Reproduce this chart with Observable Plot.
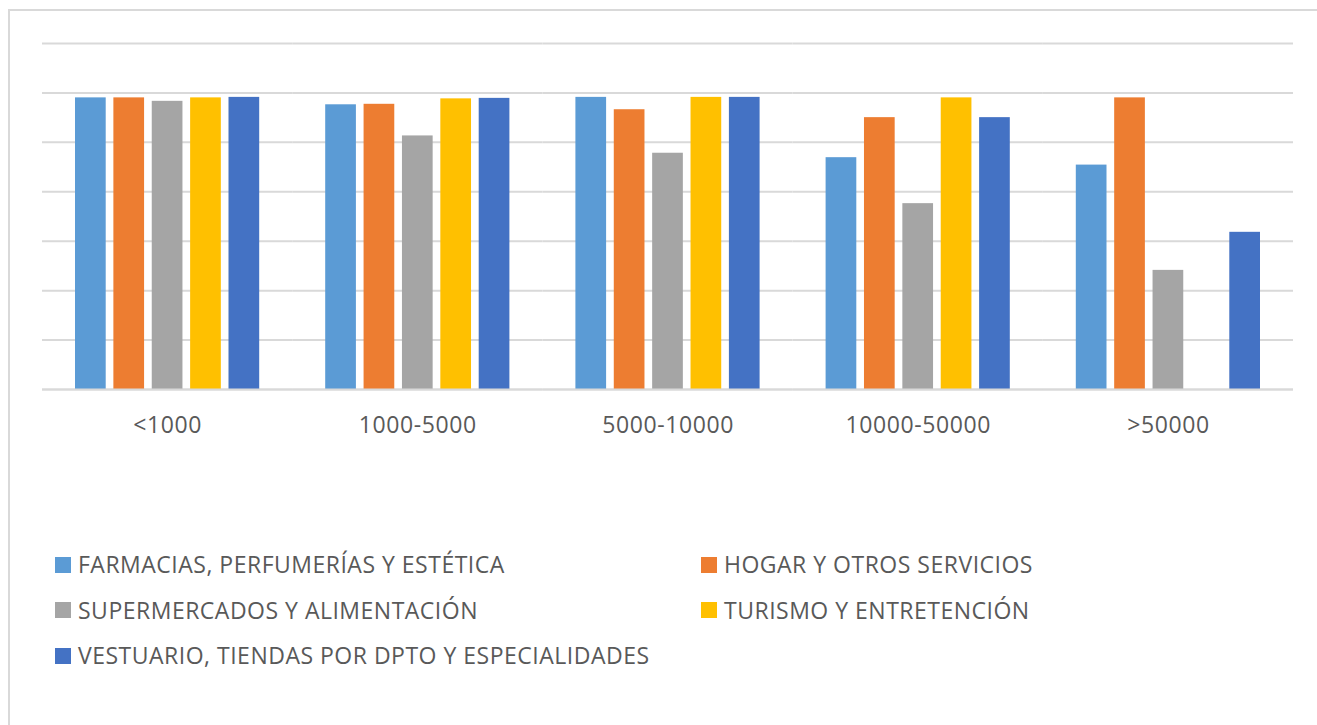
<!DOCTYPE html>
<html>
<head>
<meta charset="utf-8">
<script src="https://cdn.jsdelivr.net/npm/d3@7"></script>
<script src="https://cdn.jsdelivr.net/npm/@observablehq/plot@0.6"></script>
<style>
  html, body { margin: 0; padding: 0; background: #fff; width: 1317px; height: 725px; overflow: hidden; }
  #frame { position: absolute; left: 8px; top: 9px; width: 1400px; height: 800px;
           border-top: 2px solid #d9d9d9; border-left: 2px solid #d9d9d9; box-sizing: border-box; }
  #chart { position: absolute; left: 0; top: 0; }
  #chart svg text { letter-spacing: 0.6px; }
  #legend { position: absolute; left: 55px; top: 542px; display: grid;
            grid-template-columns: 646px auto; grid-auto-rows: 45.5px;
            font-family: "Open Sans", sans-serif; font-size: 23px; color: #595959; letter-spacing: 0.5px; }
  .item { display: flex; align-items: center; line-height: 1; white-space: nowrap; }
  .sw { width: 16px; height: 16px; margin-right: 7px; flex: none; }
</style>
</head>
<body>
<div id="frame"></div>
<div id="chart"></div>
<div id="legend"></div>
<script>
const groups = ["<1000", "1000-5000", "5000-10000", "10000-50000", ">50000"];
const series = [
  "FARMACIAS, PERFUMERÍAS Y ESTÉTICA",
  "HOGAR Y OTROS SERVICIOS",
  "SUPERMERCADOS Y ALIMENTACIÓN",
  "TURISMO Y ENTRETENCIÓN",
  "VESTUARIO, TIENDAS POR DPTO Y ESPECIALIDADES"
];
const colors = ["#5B9BD5", "#ED7D31", "#A5A5A5", "#FFC000", "#4472C4"];
const farmacias = [5.90, 5.76, 5.91, 4.69, 4.54];
const hogar     = [5.90, 5.77, 5.66, 5.50, 5.90];
const supermerc = [5.83, 5.13, 4.78, 3.76, 2.41];
const turismo   = [5.90, 5.88, 5.91, 5.90, null];
const vestuario = [5.91, 5.89, 5.91, 5.50, 3.18];
const yTicks = [0, 1, 2, 3, 4, 5, 6, 7];

const seriesValues = [farmacias, hogar, supermerc, turismo, vestuario];
const data = [];
groups.forEach((g, gi) => {
  series.forEach((s, si) => {
    const v = seriesValues[si][gi];
    if (v != null) data.push({group: g, series: s, value: v});
  });
});

const chart = Plot.plot({
  width: 1317,
  height: 450,
  marginLeft: 42,
  marginRight: 24,
  marginTop: 43,
  marginBottom: 61,
  fx: {domain: groups, padding: 0, label: null, round: false},
  x: {domain: series, paddingInner: 0.2, paddingOuter: 0.86, axis: null, round: false},
  y: {domain: [0, 7], axis: null},
  color: {domain: series, range: colors},
  style: {fontFamily: "'Open Sans', sans-serif", background: "transparent", overflow: "visible"},
  marks: [
    Plot.ruleY(yTicks, {stroke: "#d9d9d9", strokeWidth: 2}),
    Plot.barY(data, {fx: "group", x: "series", y: "value", fill: "series"}),
    Plot.ruleY([0], {stroke: "#d9d9d9", strokeWidth: 2}),
    Plot.axisFx({anchor: "bottom", tickSize: 0, tickPadding: 27, fontSize: 23, fill: "#595959", label: null})
  ]
});
document.getElementById("chart").appendChild(chart);

const legend = document.getElementById("legend");
series.forEach((s, i) => {
  const item = document.createElement("div");
  item.className = "item";
  const sw = document.createElement("span");
  sw.className = "sw";
  sw.style.background = colors[i];
  const t = document.createElement("span");
  t.textContent = s;
  item.appendChild(sw);
  item.appendChild(t);
  legend.appendChild(item);
});
</script>
</body>
</html>
